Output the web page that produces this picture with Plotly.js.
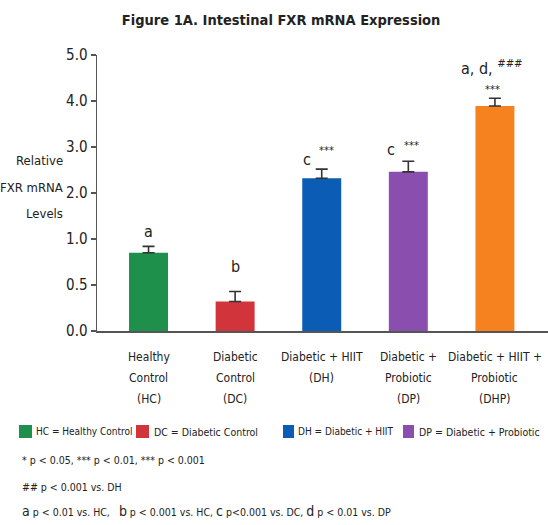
<!DOCTYPE html>
<html>
<head>
<meta charset="utf-8">
<script src="https://cdn.plot.ly/plotly-3.0.1.min.js"></script>
<style>html,body{margin:0;padding:0;background:#fff;}#chart{width:548px;height:525px;}</style>
</head>
<body>
<div id="chart"></div>
<script>
// ---- data ----
const groups = ["HC", "DC", "DH", "DP", "DHP"];
const groupLabels = ["Healthy<br>Control<br>(HC)", "Diabetic<br>Control<br>(DC)", "Diabetic + HIIT<br>(DH)", "Diabetic +<br>Probiotic<br>(DP)", "Diabetic + HIIT +<br>Probiotic<br>(DHP)"];
const means = [0.85, 0.32, 2.32, 2.46, 3.89];
const errors = [0.07, 0.11, 0.20, 0.23, 0.17];
const colors = ["#1f8f4c", "#d1343b", "#0b5cb5", "#8a4fae", "#f5821f"];
const yTickValues = [0, 0.5, 1, 2, 3, 4, 5];
const yTickLabels = ["0.0", "0.5", "1.0", "2.0", "3.0", "4.0", "5.0"];
const yTitleLines = ["Relative", "FXR mRNA", "Levels"];
const sigLetters = ["a", "b", "c", "c", "a, d, <sup>###</sup>"];
const sigStars = ["", "", "***", "***", "***"];
const legendItems = ["HC = Healthy Control", "DC = Diabetic Control", "DH = Diabetic + HIIT", "DP = Diabetic + Probiotic"];
const footnotes = ["* p < 0.05, *** p < 0.01, *** p < 0.001", "## p < 0.001 vs. DH",
  "<span style='font-size:14px'>a</span> p < 0.01 vs. HC,   <span style='font-size:14px'>b</span> p < 0.001 vs. HC, <span style='font-size:14px'>c</span> p<0.001 vs. DC, <span style='font-size:14px'>d</span> p < 0.01 vs. DP"];

// The original axis is broken: 0–1 in steps of 0.5, then 1–5 in steps of 1, all equally spaced.
function toAxis(v){ return v <= 1 ? v * 2 : v + 1; }

const FONT = "'DejaVu Sans Condensed', 'Liberation Sans Narrow', sans-serif";
const INK = '#222';
const yPos = means.map(toAxis);
const errPlus = means.map((m, i) => toAxis(m + errors[i]) - toAxis(m));
const topPos = means.map((m, i) => toAxis(m + errors[i]));

const trace = {
  type: 'bar', x: groups, y: yPos, width: 0.45,
  marker: {color: colors, line: {width: 0}},
  error_y: {type: 'data', symmetric: false, array: errPlus, arrayminus: groups.map(() => 0), color: '#333', thickness: 1.6, width: 6},
  hoverinfo: 'skip', showlegend: false
};

const plotL = 97, plotW = 451, plotT = 55, plotH = 276;
const px2x = p => (p - plotL) / plotW;
const py2y = p => (plotT + plotH - p) / plotH;

const ann = [];
// y-axis title (horizontal, three lines, right aligned)
const yTitleY = [160, 187, 213];
yTitleLines.forEach((t, i) => {
  ann.push({xref: 'paper', yref: 'paper', x: px2x(65), y: py2y(yTitleY[i]), xanchor: 'right', yanchor: 'middle', showarrow: false,
    text: t, font: {family: FONT, size: 13, color: INK}});
});
// category labels, one line each, centred under the bars
const catLineY = [357, 378, 399];
groups.forEach((g, i) => {
  groupLabels[i].split('<br>').forEach((line, k) => {
    ann.push({x: g, xref: 'x', yref: 'paper', y: py2y(catLineY[k]), xanchor: 'center', yanchor: 'middle', showarrow: false,
      text: line, font: {family: FONT, size: 12, color: INK}});
  });
});
// significance letters
const letterOffsets = [{dx: 0, dy: 3}, {dx: 0, dy: 13}, {dx: -15, dy: -2}, {dx: -17, dy: 0}, {dx: -3, dy: 18}];
const starOffsets = [null, null, {dx: 5, dy: 10}, {dx: 3, dy: 7}, {dx: -2, dy: 0}];
groups.forEach((g, i) => {
  ann.push({x: g, y: topPos[i], xref: 'x', yref: 'y', xanchor: 'center', yanchor: 'bottom', showarrow: false,
    xshift: letterOffsets[i].dx, yshift: letterOffsets[i].dy, text: sigLetters[i], font: {family: FONT, size: 16, color: INK}});
  if (sigStars[i]) {
    ann.push({x: g, y: topPos[i], xref: 'x', yref: 'y', xanchor: 'center', yanchor: 'bottom', showarrow: false,
      xshift: starOffsets[i].dx, yshift: starOffsets[i].dy, text: sigStars[i], font: {family: FONT, size: 11, color: INK}});
  }
});
// legend row (swatches + text so it can run off the right edge like the original)
const legX = [34, 152, 296, 417];
const swX = [19, 136, 283, 403];
const swW = [13, 13, 11, 11];
const legSize = [10, 10.5, 10, 10.5];
const shapes = [];
legendItems.forEach((t, i) => {
  shapes.push({type: 'rect', xref: 'paper', yref: 'paper', x0: px2x(swX[i]), x1: px2x(swX[i] + swW[i]), y0: py2y(438), y1: py2y(425),
    fillcolor: colors[i], line: {width: 0}});
  ann.push({xref: 'paper', yref: 'paper', x: px2x(legX[i]), y: py2y(431.5), xanchor: 'left', yanchor: 'middle', showarrow: false,
    text: t, font: {family: FONT, size: legSize[i], color: INK}});
});
const footY = [460, 487, 511];
footnotes.forEach((t, i) => {
  ann.push({xref: 'paper', yref: 'paper', x: px2x(20), y: py2y(footY[i]), xanchor: 'left', yanchor: 'middle', showarrow: false,
    text: t, font: {family: FONT, size: 10.5, color: INK}});
});

const layout = {
  width: 548, height: 525,
  margin: {l: plotL, r: 0, t: plotT, b: 525 - plotT - plotH},
  paper_bgcolor: '#fff', plot_bgcolor: '#fff',
  title: {text: '<b>Figure 1A. Intestinal FXR mRNA Expression</b>', x: 0.513, xref: 'container', y: 0.962, yanchor: 'middle',
    xanchor: 'center', font: {family: FONT, size: 14.5, color: INK}},
  xaxis: {type: 'category', range: [-0.595, 4.613], showticklabels: false, showline: true, linecolor: '#555', linewidth: 1.5,
    ticks: '', showgrid: false, zeroline: false, fixedrange: true},
  yaxis: {range: [0, 6], tickvals: yTickValues.map(toAxis), ticktext: yTickLabels, showline: true, linecolor: '#555', linewidth: 1.5,
    ticks: 'outside', ticklen: 5, tickcolor: '#555', tickwidth: 1.5, showgrid: false, zeroline: false,
    tickfont: {family: FONT, size: 15, color: INK}, fixedrange: true},
  annotations: ann, shapes: shapes, showlegend: false
};
Plotly.newPlot('chart', [trace], layout, {staticPlot: true, displayModeBar: false});
</script>
</body>
</html>
